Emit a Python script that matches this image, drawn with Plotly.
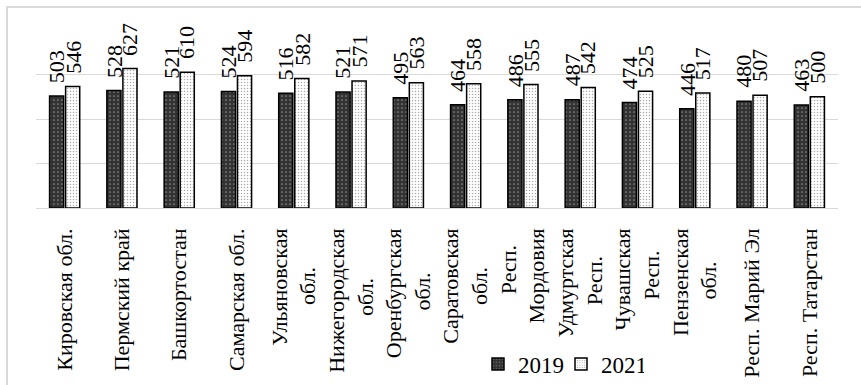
import plotly.graph_objects as go

categories = ["Кировская обл.", "Пермский край", "Башкортостан", "Самарская обл.",
              "Ульяновская обл.", "Нижегородская обл.", "Оренбургская обл.",
              "Саратовская обл.", "Респ. Мордовия", "Удмуртская Респ.",
              "Чувашская Респ.", "Пензенская обл.", "Респ. Марий Эл", "Респ. Татарстан"]
tick_lines = [["Кировская обл."], ["Пермский край"], ["Башкортостан"], ["Самарская обл."],
              ["Ульяновская", "обл."], ["Нижегородская", "обл."], ["Оренбургская", "обл."],
              ["Саратовская", "обл."], ["Респ.", "Мордовия"], ["Удмуртская", "Респ."],
              ["Чувашская", "Респ."], ["Пензенская", "обл."], ["Респ. Марий Эл"], ["Респ. Татарстан"]]
values_2019 = [503, 528, 521, 524, 516, 521, 495, 464, 486, 487, 474, 446, 480, 463]
values_2021 = [546, 627, 610, 594, 582, 571, 563, 558, 555, 542, 525, 517, 507, 500]

FONT = "Liberation Serif"
NBSP = "\u00a0"


def centred(lines):
    # pad shorter lines so wrapped lines look centred (as in the source chart)
    n = max(len(s) for s in lines)
    return "<br>".join(s + NBSP * (n - len(s)) for s in lines)


tick_labels = [centred(l) for l in tick_lines]

BARGAP = 0.44
Y_MAX = 800

fig = go.Figure()
fig.add_trace(go.Bar(
    name="2019", x=categories, y=values_2019,
    marker=dict(color="#333333", line=dict(color="black", width=1.5),
                pattern=dict(shape=".", bgcolor="#333333", fgcolor="#dddddd", size=4, solidity=0.15)),
))
fig.add_trace(go.Bar(
    name="2021", x=categories, y=values_2021,
    marker=dict(color="white", line=dict(color="black", width=1.5),
                pattern=dict(shape=".", bgcolor="white", fgcolor="#555555", size=3, solidity=0.2)),
))

L, R, T, B = 36, 23, 30, 177
W, H = 861, 385
pw, ph = W - L - R, H - T - B

# rotated value labels above each bar
OFF = (1 - BARGAP) / 4 * pw / len(categories)
annotations = []
for series, sign in ((values_2019, -1), (values_2021, 1)):
    for c, v in zip(categories, series):
        annotations.append(dict(
            x=c, y=v, xref="x", yref="y", text=str(v), textangle=-90,
            showarrow=False, xanchor="center", yanchor="bottom",
            xshift=sign * OFF, yshift=12, borderpad=0,
            font=dict(family=FONT, size=22, color="black")))

fig.update_layout(
    width=W, height=H,
    margin=dict(l=L, r=R, t=T, b=B, autoexpand=False),
    paper_bgcolor="white", plot_bgcolor="white",
    barmode="group", bargap=BARGAP, bargroupgap=0.12,
    font=dict(family=FONT, size=21, color="black"),
    showlegend=True,
    legend=dict(orientation="h", x=(478 - L) / pw, xanchor="left",
                y=(T + ph - 364) / ph, yanchor="middle",
                bgcolor="rgba(0,0,0,0)", font=dict(family=FONT, size=23, color="black"),
                itemwidth=30, tracegroupgap=0, entrywidth=38, entrywidthmode="pixels"),
    xaxis=dict(tickmode="array", tickvals=categories, ticktext=tick_labels,
               tickangle=-90, ticks="", showline=False, showgrid=False, automargin=False,
               ticklabelstandoff=15, tickfont=dict(family=FONT, size=22, color="black")),
    yaxis=dict(range=[0, Y_MAX], dtick=200, showticklabels=False, showgrid=True, automargin=False,
               gridcolor="#d9d9d9", gridwidth=1, zeroline=True, zerolinecolor="#d9d9d9",
               zerolinewidth=1, showline=False, ticks=""),
    annotations=annotations,
    shapes=[dict(type="rect", xref="paper", yref="paper",
                 x0=(7 - L) / pw, x1=(W + 20 - L) / pw,
                 y0=(T + ph - (H + 20)) / ph, y1=(T + ph - 7) / ph,
                 line=dict(color="#d9d9d9", width=2), fillcolor="rgba(0,0,0,0)", layer="below")],
)

fig.write_html("out.html", config={"displayModeBar": False},
               post_script="document.body.style.margin='0';")
